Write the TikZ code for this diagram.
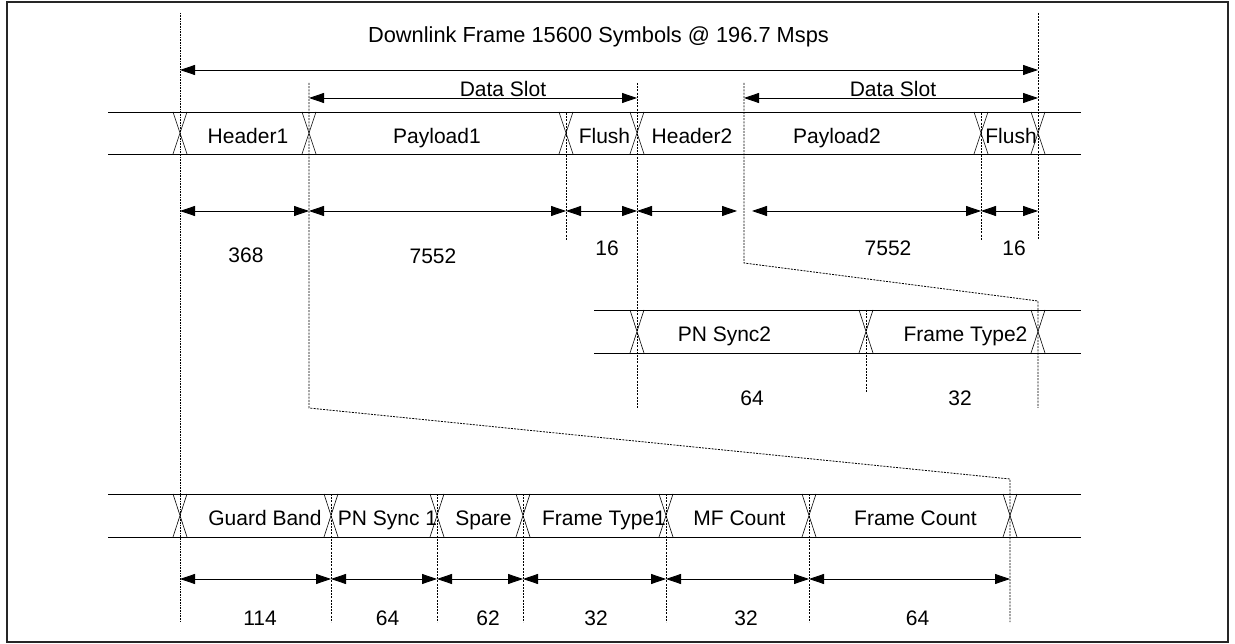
\documentclass[tikz,border=0pt]{standalone}
\usepackage{fontspec}
\setmainfont{Liberation Sans}
\usetikzlibrary{arrows.meta}
\begin{document}
\begin{tikzpicture}[x=1pt,y=-1pt,
  lbl/.style={font=\fontsize{21}{25}\selectfont, inner sep=0pt, anchor=base},
  bus/.style={line width=0.8pt, black},
  xmark/.style={line width=0.6pt, black},
  guide/.style={line width=0.8pt, black, dash pattern=on 2pt off 1.2pt},
  guidedot/.style={line width=0.8pt, black, dash pattern=on 0.8pt off 0.8pt},
  dim/.style={line width=0.8pt, black, {Triangle[length=15pt,width=10pt]}-{Triangle[length=15pt,width=10pt]}},
  frame/.style={line width=1.2pt, black!85}]
\useasboundingbox (0,0) rectangle (1235,644);
\draw[frame] (7,2) rectangle (1228,642);

% ---- guide lines
\coordinate (gA1) at (180,13);  \coordinate (gA2) at (180,622);
\draw[guidedot] (gA1) -- (gA2);
\coordinate (gB1) at (309,83);  \coordinate (gB2) at (309,408);
\coordinate (gB3) at (1010,479); \coordinate (gB4) at (1010,622);
\draw[guide] (gB1) -- (gB2) -- (gB3) -- (gB4);
\coordinate (gC1) at (566,113); \coordinate (gC2) at (566,240);
\draw[guide] (gC1) -- (gC2);
\coordinate (gD1) at (637,83);  \coordinate (gD2) at (637,408);
\draw[guide] (gD1) -- (gD2);
\coordinate (gE1) at (744,83);  \coordinate (gE2) at (744,263);
\coordinate (gE3) at (1038,301); \coordinate (gE4) at (1038,408);
\draw[guide] (gE1) -- (gE2) -- (gE3) -- (gE4);
\coordinate (gF1) at (981,113); \coordinate (gF2) at (981,240);
\draw[guide] (gF1) -- (gF2);
\coordinate (gG1) at (1038,13); \coordinate (gG2) at (1038,240);
\draw[guide] (gG1) -- (gG2);
\coordinate (gH1) at (866,310); \coordinate (gH2) at (866,393);
\draw[guide] (gH1) -- (gH2);
\foreach \x in {331,437,523,666,809}
  \draw[guide] (\x,494) -- (\x,622);

% ---- buses
\draw[bus] (108,112) -- (1081,112) (108,154) -- (1081,154);
\foreach \x in {180,309,566,637,981,1038}
  \draw[xmark] (\x-7,112) -- (\x+7,154) (\x+7,112) -- (\x-7,154);
\draw[bus] (594,310) -- (1081,310) (594,353) -- (1081,353);
\foreach \x in {637,866,1038}
  \draw[xmark] (\x-7,310) -- (\x+7,353) (\x+7,310) -- (\x-7,353);
\draw[bus] (108,494) -- (1081,494) (108,537) -- (1081,537);
\foreach \x in {180,331,437,523,666,809,1010}
  \draw[xmark] (\x-7,494) -- (\x+7,537) (\x+7,494) -- (\x-7,537);

% ---- dimension arrows
\draw[dim] (180,70) -- (1038,70);
\draw[dim] (309,98) -- (637,98);
\draw[dim] (744,98) -- (1038,98);
\draw[dim] (180,211) -- (309,211);
\draw[dim] (309,211) -- (566,211);
\draw[dim] (566,211) -- (637,211);
\draw[dim] (637,211) -- (737,211);
\draw[dim] (752,211) -- (981,211);
\draw[dim] (981,211) -- (1038,211);
\draw[dim] (180,579) -- (331,579);
\draw[dim] (331,579) -- (437,579);
\draw[dim] (437,579) -- (523,579);
\draw[dim] (523,579) -- (666,579);
\draw[dim] (666,579) -- (809,579);
\draw[dim] (809,579) -- (1010,579);

% ---- texts
\node[lbl, font=\fontsize{21.8}{26}\selectfont] (title) at (598.5,43) {Downlink Frame 15600 Symbols @ 196.7 Msps};
\node[lbl] (ds1) at (503,97) {Data Slot};
\node[lbl] (ds2) at (893,97) {Data Slot};

\node[lbl] (h1) at (248,144) {Header1};
\node[lbl] (p1) at (437,144) {Payload1};
\node[lbl] (f1) at (604.5,144) {Flush};
\node[lbl] (h2) at (692,144) {Header2};
\node[lbl] (p2) at (837,144) {Payload2};
\node[lbl] (f2) at (1011,144) {Flush};

\node[lbl] (n1) at (246,263) {368};
\node[lbl] (n2) at (433,264) {7552};
\node[lbl] (n3) at (607,256) {16};
\node[lbl] (n4) at (888,256) {7552};
\node[lbl] (n5) at (1014,256) {16};

\node[lbl] (pn2) at (724.5,342) {PN Sync2};
\node[lbl] (ft2) at (965.5,342) {Frame Type2};
\node[lbl] (m1) at (752,406) {64};
\node[lbl] (m2) at (960,406) {32};

\node[lbl] (b1) at (265,525) {Guard Band};
\node[lbl] (b2) at (387.5,525) {PN Sync 1};
\node[lbl] (b3) at (483.5,525) {Spare};
\node[lbl] (b4) at (604,525) {Frame Type1};
\node[lbl] (b5) at (739.5,525) {MF Count};
\node[lbl] (b6) at (915.5,525) {Frame Count};

\node[lbl] (c1) at (260,625) {114};
\node[lbl] (c2) at (387.5,625) {64};
\node[lbl] (c3) at (488,625) {62};
\node[lbl] (c4) at (596,625) {32};
\node[lbl] (c5) at (746,625) {32};
\node[lbl] (c6) at (917.5,625) {64};
\end{tikzpicture}
\end{document}
